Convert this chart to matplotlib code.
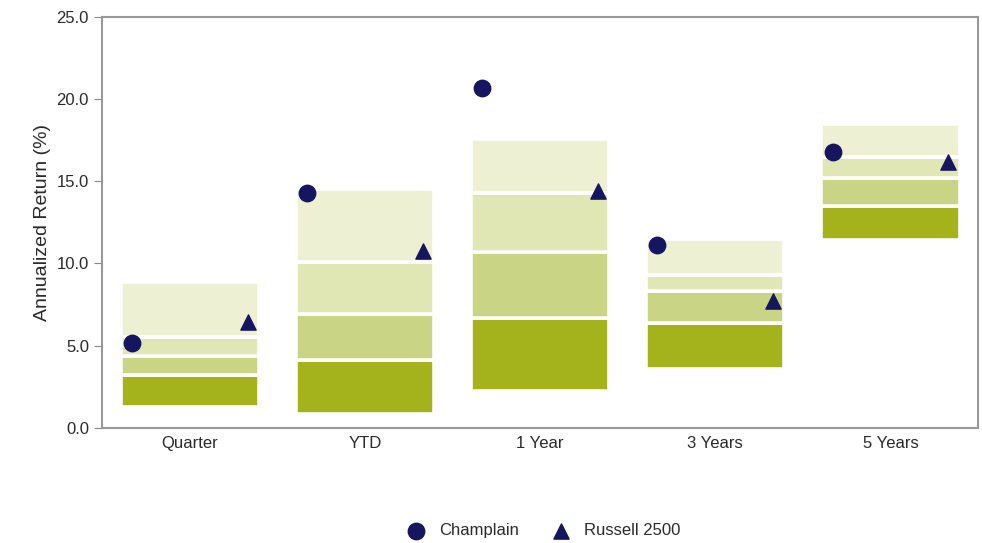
import matplotlib.pyplot as plt
import numpy as np

plt.rcParams['font.family'] = ['Liberation Sans', 'DejaVu Sans']
plt.rcParams['text.color'] = '#2a2a2a'
plt.rcParams['axes.labelcolor'] = '#2a2a2a'
plt.rcParams['xtick.labelcolor'] = '#2a2a2a'
plt.rcParams['ytick.labelcolor'] = '#2a2a2a'

# periods
periods = ['Quarter', 'YTD', '1 Year', '3 Years', '5 Years']

# universe percentiles (top of range down to bottom)
p5 = [8.9, 14.5, 17.6, 11.5, 18.5]
p25 = [5.5, 10.1, 14.3, 9.3, 16.5]
p50 = [4.4, 6.9, 10.7, 8.3, 15.2]
p75 = [3.2, 4.1, 6.7, 6.4, 13.5]
p95 = [1.3, 0.85, 2.25, 3.6, 11.4]

# returns
champlain = [5.15, 14.3, 20.7, 11.15, 16.8]
russell = [6.45, 10.75, 14.4, 7.7, 16.15]

colors = ['#a4b31c', '#c9d484', '#e0e6b4', '#eef0d4']

fig, ax = plt.subplots(figsize=(9.82, 5.43), dpi=100)
fig.subplots_adjust(left=0.104, right=0.996, top=0.969, bottom=0.212)

x = np.arange(len(periods))
w = 0.79
levels = [p95, p75, p50, p25, p5]
for j in range(4):
    lo = np.array(levels[j])
    hi = np.array(levels[j + 1])
    ax.bar(x, hi - lo, bottom=lo, width=w, color=colors[j], edgecolor='white', linewidth=2.6, zorder=2)

ax.scatter(x - 0.33, champlain, marker='o', s=140, color='#161660', zorder=3, label='Champlain')
ax.scatter(x + 0.33, russell, marker='^', s=120, color='#161660', zorder=3, label='Russell 2500')

ax.set_xlim(-0.5, 4.5)
ax.set_ylim(0, 25)
ax.set_yticks(np.arange(0, 26, 5))
ax.set_yticklabels([f'{v:.1f}' for v in np.arange(0, 26, 5)], fontsize=12)
ax.set_xticks(x)
ax.set_xticklabels(periods, fontsize=12)
ax.tick_params(axis='x', length=0, pad=6)
ax.tick_params(axis='y', length=6, color='#888888')
ax.set_ylabel('Annualized Return (%)', fontsize=14)
for s in ax.spines.values():
    s.set_color('#999999')
    s.set_linewidth(1.5)

ax.legend(loc='upper center', bbox_to_anchor=(0.5, -0.195), ncol=2, frameon=False, fontsize=12,
          handletextpad=0.4, columnspacing=1.5)

plt.savefig('out.png')
